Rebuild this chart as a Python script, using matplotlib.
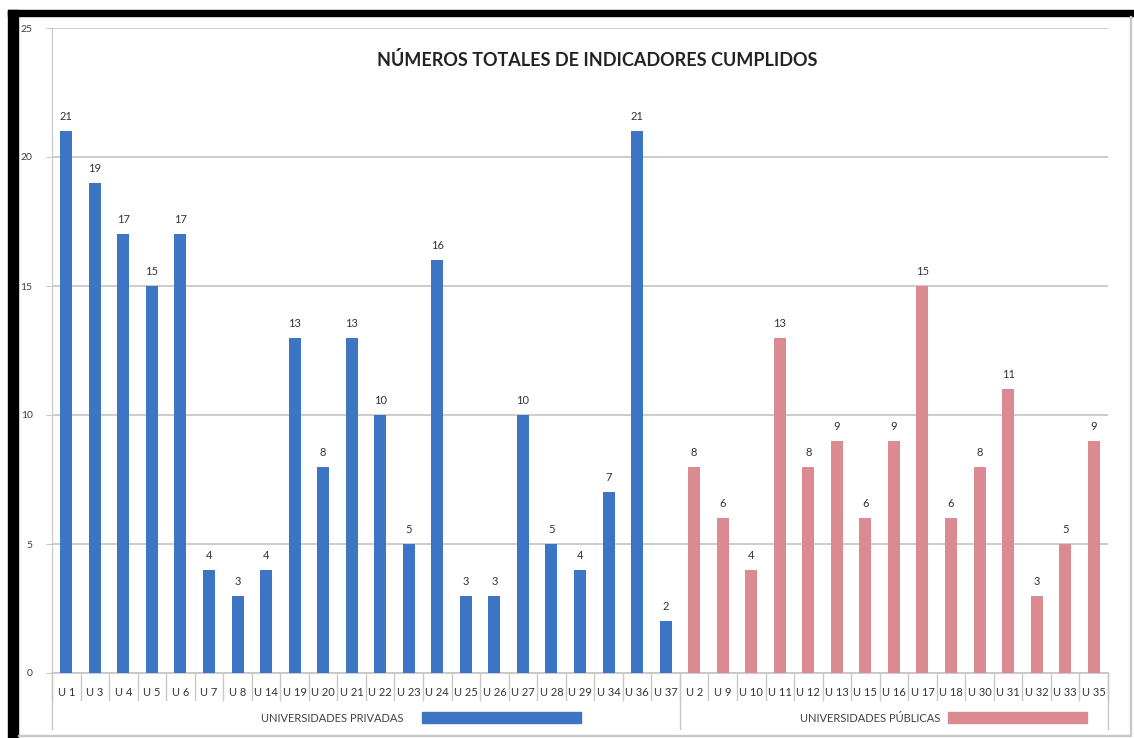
import matplotlib.pyplot as plt
import numpy as np
from matplotlib.patches import Rectangle

privadas = ["U1", "U3", "U4", "U5", "U6", "U7", "U8", "U14", "U19", "U20", "U21",
            "U22", "U23", "U24", "U25", "U26", "U27", "U28", "U29", "U34", "U36", "U37"]
privadas_vals = [21, 19, 17, 15, 17, 4, 3, 4, 13, 8, 13, 10, 5, 16, 3, 3, 10, 5, 4, 7, 21, 2]

publicas = ["U2", "U9", "U10", "U11", "U12", "U13", "U15", "U16", "U17", "U18",
            "U30", "U31", "U32", "U33", "U35"]
publicas_vals = [8, 6, 4, 13, 8, 9, 6, 9, 15, 6, 8, 11, 3, 5, 9]

grupos = ["UNIVERSIDADES PRIVADAS", "UNIVERSIDADES PÚBLICAS"]
titulo = "NÚMEROS TOTALES DE INDICADORES CUMPLIDOS"

BLUE = "#3e74c4"
PINK = "#da8a90"
W, H = 1134, 738

fig = plt.figure(figsize=(W / 100, H / 100), dpi=100)
plt.rcParams["font.family"] = ["Lato", "DejaVu Sans"]

# black frame of the screenshot (top and left)
fig.patches.append(Rectangle((8 / W, 0), 10 / W, (H - 10) / H, transform=fig.transFigure,
                             color="black", zorder=0))
fig.patches.append(Rectangle((8 / W, (H - 16) / H), (W - 8) / W, 6 / H, transform=fig.transFigure,
                             color="black", zorder=0))
fig.patches.append(Rectangle((18 / W, 2 / H), (W - 22) / W, 1 / H, transform=fig.transFigure,
                             color="#c8c8c8", zorder=0))
fig.patches.append(Rectangle(((W - 4) / W, 2 / H), 1 / W, (H - 18) / H, transform=fig.transFigure,
                             color="#c8c8c8", zorder=0))

x0, x1, y0, y1 = 52, 1108, 673, 28
ax = fig.add_axes([x0 / W, (H - y0) / H, (x1 - x0) / W, (y0 - y1) / H])

labels = privadas + publicas
n_priv = len(privadas)
n = len(labels)
xs = np.arange(n)

ax.bar(xs[:n_priv], privadas_vals, width=0.42, color=BLUE, zorder=3)
ax.bar(xs[n_priv:], publicas_vals, width=0.42, color=PINK, zorder=3)

for x, v in zip(xs, privadas_vals + publicas_vals):
    ax.text(x, v + 0.35, str(v), ha="center", va="bottom", fontsize=8, color="#333333")

ax.set_xlim(-0.5, n - 0.5)
ax.set_ylim(0, 25)
ax.set_yticks(range(0, 26, 5))
ax.yaxis.grid(True, color="#c8c8c8", linewidth=1.3, zorder=0)
ax.set_axisbelow(True)
for s in ["top", "right", "bottom"]:
    ax.spines[s].set_visible(False)
ax.spines["left"].set_color("#c8c8c8")
ax.tick_params(axis="y", length=4, color="#c8c8c8", labelsize=7.5, labelcolor="#404040", pad=10)
ax.tick_params(axis="x", length=0, labelsize=8, labelcolor="#333333", pad=10)
ax.set_xticks(xs)
ax.set_xticklabels([l[0] + " " + l[1:] for l in labels])

# category separators and group separators below the axis
trans = ax.get_xaxis_transform()
ax.plot([-0.5, n - 0.5], [0, 0], color="#c8c8c8", lw=1.3, transform=trans, clip_on=False)
for b in np.arange(n + 1) - 0.5:
    ax.plot([b, b], [0, -0.042], color="#c8c8c8", lw=1, transform=trans, clip_on=False)
for b in [-0.5, n_priv - 0.5, n - 0.5]:
    ax.plot([b, b], [0, -0.087], color="#c8c8c8", lw=1, transform=trans, clip_on=False)

# group labels with colour swatches (text end, swatch start, swatch end as fraction of group span)
spots = [(0.56, 0.59, 0.843), (0.609, 0.626, 0.951)]
groups = [((-0.5, n_priv - 0.5), grupos[0], BLUE), ((n_priv - 0.5, n - 0.5), grupos[1], PINK)]
for ((lo, hi), name, col), (t_end, s0, s1) in zip(groups, spots):
    span = hi - lo
    ax.text(lo + span * t_end, -0.071, name, ha="right", va="center", fontsize=8,
            color="#404040", transform=trans)
    ax.add_patch(Rectangle((lo + span * s0, -0.077), span * (s1 - s0), 0.016, transform=trans,
                           color=col, clip_on=False))

fig.text(597 / W, (H - 60) / H, titulo, ha="center", va="center", fontsize=13,
         fontweight="bold", color="#222222")

fig.savefig("out.png", dpi=100)
